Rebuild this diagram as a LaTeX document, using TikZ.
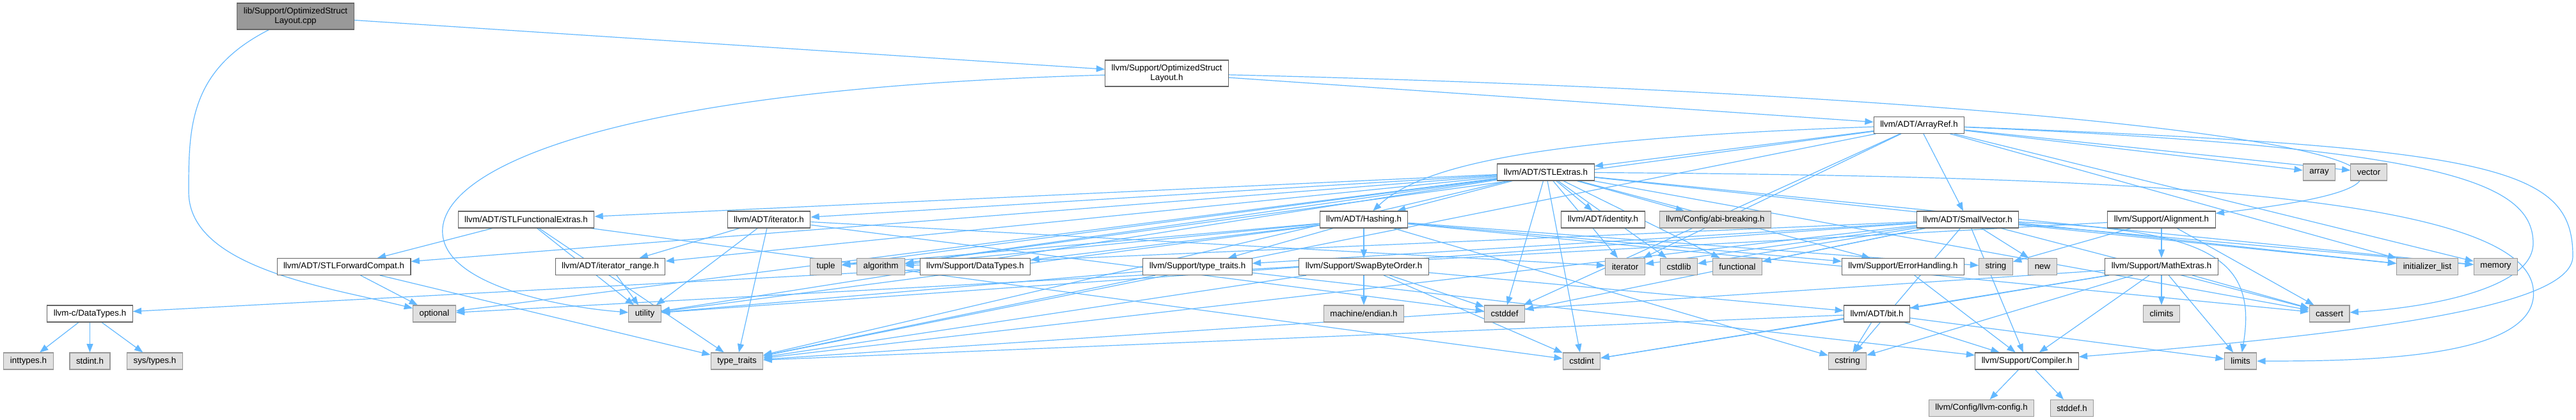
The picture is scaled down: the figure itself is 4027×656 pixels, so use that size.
\documentclass[tikz,border=0pt]{standalone}
\usepackage{fontspec}
\setmainfont{Liberation Sans}
\usepackage{tikz}
\usepackage{xcolor}
\usetikzlibrary{arrows.meta, backgrounds}

\definecolor{edgeblue}{HTML}{63B8FF}

\begin{document}
\begin{tikzpicture}[
        x=0.75pt, y=-0.75pt,
        font=\fontsize{10}{11.25}\selectfont,
        >={Triangle[length=10pt, width=7.5pt]},
        hdr/.style={
            draw=black!60,
            fill=white,
            line width=0.8pt,
            inner xsep=7.5pt,
            inner ysep=0pt,
            minimum height=19.5pt
        },
        sys/.style={
            hdr,
            draw=black!40,
            fill=black!12
        },
        twoline/.style={
            hdr,
            align=center,
            minimum height=30.75pt
        },
        dep/.style={
            ->,
            color=edgeblue,
            line width=0.9pt
        }
    ]
        \useasboundingbox (0,0) rectangle (4027,656);

        % top rows
        \node[twoline, fill=black!40] (root) at (462,25.5) {lib/Support/OptimizedStruct\\Layout.cpp};
        \node[twoline] (oslh) at (1824,114.5) {llvm/Support/OptimizedStruct\\Layout.h};
        \node[hdr] (arrayref) at (3000,195.5) {llvm/ADT/ArrayRef.h};
        \node[hdr] (stlextras) at (2416.5,269) {llvm/ADT/STLExtras.h};
        \node[sys] (array) at (3625.5,269) {array};
        \node[sys] (vector) at (3703,269) {vector};

        \node[hdr] (stlfunc) at (822.5,343) {llvm/ADT/STLFunctionalExtras.h};
        \node[hdr] (iteratorh) at (1202,343) {llvm/ADT/iterator.h};
        \node[hdr] (hashing) at (2132,343) {llvm/ADT/Hashing.h};
        \node[hdr] (identity) at (2506,343) {llvm/ADT/identity.h};
        \node[sys] (abibreak) at (2681.5,343) {llvm/Config/abi-breaking.h};
        \node[hdr] (smallvec) at (3076,343) {llvm/ADT/SmallVector.h};
        \node[hdr] (alignment) at (3379,343) {llvm/Support/Alignment.h};

        \node[hdr] (stlforward) at (537.5,416.5) {llvm/ADT/STLForwardCompat.h};
        \node[hdr] (iterrange) at (954,416.5) {llvm/ADT/iterator\_range.h};
        \node[sys] (tuple) at (1291,416.5) {tuple};
        \node[sys] (algorithm) at (1377,416.5) {algorithm};
        \node[hdr] (suppdatatypes) at (1524.5,416.5) {llvm/Support/DataTypes.h};
        \node[hdr] (supptypetraits) at (1872,416.5) {llvm/Support/type\_traits.h};
        \node[hdr] (swapbyte) at (2132,416.5) {llvm/Support/SwapByteOrder.h};
        \node[sys] (iterator) at (2540.5,416.5) {iterator};
        \node[sys] (cstdlib) at (2624.5,416.5) {cstdlib};
        \node[sys] (functional) at (2716,416.5) {functional};
        \node[hdr] (errhandling) at (2975,416.5) {llvm/Support/ErrorHandling.h};
        \node[sys] (string) at (3120,416.5) {string};
        \node[sys] (newhdr) at (3193,416.5) {new};
        \node[hdr] (mathextras) at (3379,416.5) {llvm/Support/MathExtras.h};
        \node[sys] (initlist) at (3794.5,416.5) {initializer\_list};
        \node[sys] (memory) at (3901.5,416.5) {memory};

        \node[hdr] (cdatatypes) at (140.5,490) {llvm-c/DataTypes.h};
        \node[sys] (optional) at (679,490) {optional};
        \node[sys] (utility) at (1008,490) {utility};
        \node[sys] (endian) at (2132,490) {machine/endian.h};
        \node[sys] (cstddef) at (2352,490) {cstddef};
        \node[hdr] (bith) at (2934,490) {llvm/ADT/bit.h};
        \node[sys] (climits) at (3379,490) {climits};
        \node[sys] (cassert) at (3641.5,490) {cassert};

        \node[sys] (inttypes) at (44.5,564) {inttypes.h};
        \node[sys] (stdint) at (140.5,564) {stdint.h};
        \node[sys] (systypes) at (242,564) {sys/types.h};
        \node[sys] (typetraits) at (1152,564) {type\_traits};
        \node[sys] (cstdint) at (2472.5,564) {cstdint};
        \node[sys] (cstring) at (2888,564) {cstring};
        \node[hdr] (compiler) at (3168.5,564) {llvm/Support/Compiler.h};
        \node[sys] (limits) at (3502.5,564) {limits};

        \node[sys] (llvmconfig) at (3097.5,637.5) {llvm/Config/llvm-config.h};
        \node[sys] (stddefh) at (3239,637.5) {stddef.h};

        \begin{scope}[on background layer]
        % source file
        \draw[dep] (root) -- (oslh);
        \draw[dep] (root) .. controls (295,110) and (295,200) .. (295,300) .. controls (295,420) and (520,450) .. (optional);

        % OptimizedStructLayout.h
        \draw[dep] (oslh) -- (arrayref);
        \draw[dep] (oslh) .. controls (3300,150) and (4100,260) .. (alignment);
        \draw[dep] (oslh) .. controls (900,140) and (660,280) .. (695,380) .. controls (720,450) and (880,480) .. (utility);

        % ArrayRef.h
        \draw[dep] (arrayref) -- (stlextras);
        \draw[dep] (arrayref) -- (smallvec);
        \draw[dep] (arrayref) .. controls (2450,215) and (2230,250) .. (hashing);
        \draw[dep] (arrayref) .. controls (3900,230) and (4022,260) .. (4022,400) .. controls (4022,480) and (3700,520) .. (compiler);
        \draw[dep] (arrayref) .. controls (3800,230) and (3960,280) .. (3960,380) .. controls (3960,450) and (3800,480) .. (cassert);
        \draw[dep] (arrayref) -- (algorithm);
        \draw[dep] (arrayref) -- (array);
        \draw[dep] (arrayref) -- (vector);
        \draw[dep] (arrayref) -- (cstddef);
        \draw[dep] (arrayref) -- (initlist);
        \draw[dep] (arrayref) -- (iterator);
        \draw[dep] (arrayref) -- (memory);
        \draw[dep] (arrayref) -- (typetraits);

        % STLExtras.h
        \draw[dep] (stlextras) -- (hashing);
        \draw[dep] (stlextras) -- (stlforward);
        \draw[dep] (stlextras) -- (stlfunc);
        \draw[dep] (stlextras) -- (identity);
        \draw[dep] (stlextras) -- (iteratorh);
        \draw[dep] (stlextras) -- (iterrange);
        \draw[dep] (stlextras) -- (abibreak);
        \draw[dep] (stlextras) -- (errhandling);
        \draw[dep] (stlextras) -- (algorithm);
        \draw[dep] (stlextras) -- (cassert);
        \draw[dep] (stlextras) -- (cstddef);
        \draw[dep] (stlextras) -- (cstdint);
        \draw[dep] (stlextras) -- (cstdlib);
        \draw[dep] (stlextras) -- (functional);
        \draw[dep] (stlextras) -- (initlist);
        \draw[dep] (stlextras) -- (iterator);
        \draw[dep] (stlextras) .. controls (3300,275) and (3940,300) .. (3960,450) .. controls (3975,560) and (3700,564) .. (limits);
        \draw[dep] (stlextras) -- (memory);
        \draw[dep] (stlextras) -- (optional);
        \draw[dep] (stlextras) -- (tuple);
        \draw[dep] (stlextras) -- (typetraits);
        \draw[dep] (stlextras) -- (utility);

        % Hashing.h
        \draw[dep] (hashing) -- (suppdatatypes);
        \draw[dep] (hashing) -- (errhandling);
        \draw[dep] (hashing) -- (swapbyte);
        \draw[dep] (hashing) -- (supptypetraits);
        \draw[dep] (hashing) -- (algorithm);
        \draw[dep] (hashing) -- (cassert);
        \draw[dep] (hashing) -- (cstring);
        \draw[dep] (hashing) -- (string);
        \draw[dep] (hashing) -- (tuple);
        \draw[dep] (hashing) -- (utility);

        % SmallVector.h
        \draw[dep] (smallvec) -- (compiler);
        \draw[dep] (smallvec) -- (supptypetraits);
        \draw[dep] (smallvec) -- (algorithm);
        \draw[dep] (smallvec) -- (cassert);
        \draw[dep] (smallvec) -- (cstddef);
        \draw[dep] (smallvec) -- (cstdlib);
        \draw[dep] (smallvec) -- (cstring);
        \draw[dep] (smallvec) -- (functional);
        \draw[dep] (smallvec) -- (initlist);
        \draw[dep] (smallvec) -- (iterator);
        \draw[dep] (smallvec) .. controls (3450,360) and (3530,400) .. (limits);
        \draw[dep] (smallvec) -- (memory);
        \draw[dep] (smallvec) -- (newhdr);
        \draw[dep] (smallvec) -- (typetraits);
        \draw[dep] (smallvec) -- (utility);

        % Alignment.h, MathExtras.h, bit.h
        \draw[dep] (alignment) -- (mathextras);
        \draw[dep] (alignment) -- (cassert);
        \draw[dep] (alignment) -- (optional);
        \draw[dep] (alignment) -- (string);
        \draw[dep] (mathextras) -- (bith);
        \draw[dep] (mathextras) -- (compiler);
        \draw[dep] (mathextras) -- (cassert);
        \draw[dep] (mathextras) -- (climits);
        \draw[dep] (mathextras) -- (cstdint);
        \draw[dep] (mathextras) -- (cstring);
        \draw[dep] (mathextras) -- (limits);
        \draw[dep] (mathextras) -- (typetraits);
        \draw[dep] (bith) -- (compiler);
        \draw[dep] (bith) -- (cstdint);
        \draw[dep] (bith) -- (limits);
        \draw[dep] (bith) -- (typetraits);
        \draw[dep] (bith) -- (cstring);

        % SwapByteOrder.h and the rest
        \draw[dep] (swapbyte) -- (bith);
        \draw[dep] (swapbyte) -- (cstddef);
        \draw[dep] (swapbyte) -- (cstdint);
        \draw[dep] (swapbyte) -- (typetraits);
        \draw[dep] (swapbyte) -- (endian);
        \draw[dep] (errhandling) -- (compiler);
        \draw[dep] (supptypetraits) -- (compiler);
        \draw[dep] (supptypetraits) -- (typetraits);
        \draw[dep] (supptypetraits) -- (utility);
        \draw[dep] (compiler) -- (llvmconfig);
        \draw[dep] (compiler) -- (stddefh);
        \draw[dep] (suppdatatypes) -- (cdatatypes);
        \draw[dep] (cdatatypes) -- (inttypes);
        \draw[dep] (cdatatypes) -- (stdint);
        \draw[dep] (cdatatypes) -- (systypes);
        \draw[dep] (stlforward) -- (optional);
        \draw[dep] (stlforward) -- (typetraits);
        \draw[dep] (stlfunc) -- (stlforward);
        \draw[dep] (stlfunc) -- (cstdint);
        \draw[dep] (stlfunc) -- (typetraits);
        \draw[dep] (stlfunc) -- (utility);
        \draw[dep] (iteratorh) -- (iterrange);
        \draw[dep] (iteratorh) -- (cstddef);
        \draw[dep] (iteratorh) -- (iterator);
        \draw[dep] (iteratorh) -- (typetraits);
        \draw[dep] (iteratorh) -- (utility);
        \draw[dep] (iterrange) -- (utility);
        \end{scope}

    \end{tikzpicture}
\end{document}
